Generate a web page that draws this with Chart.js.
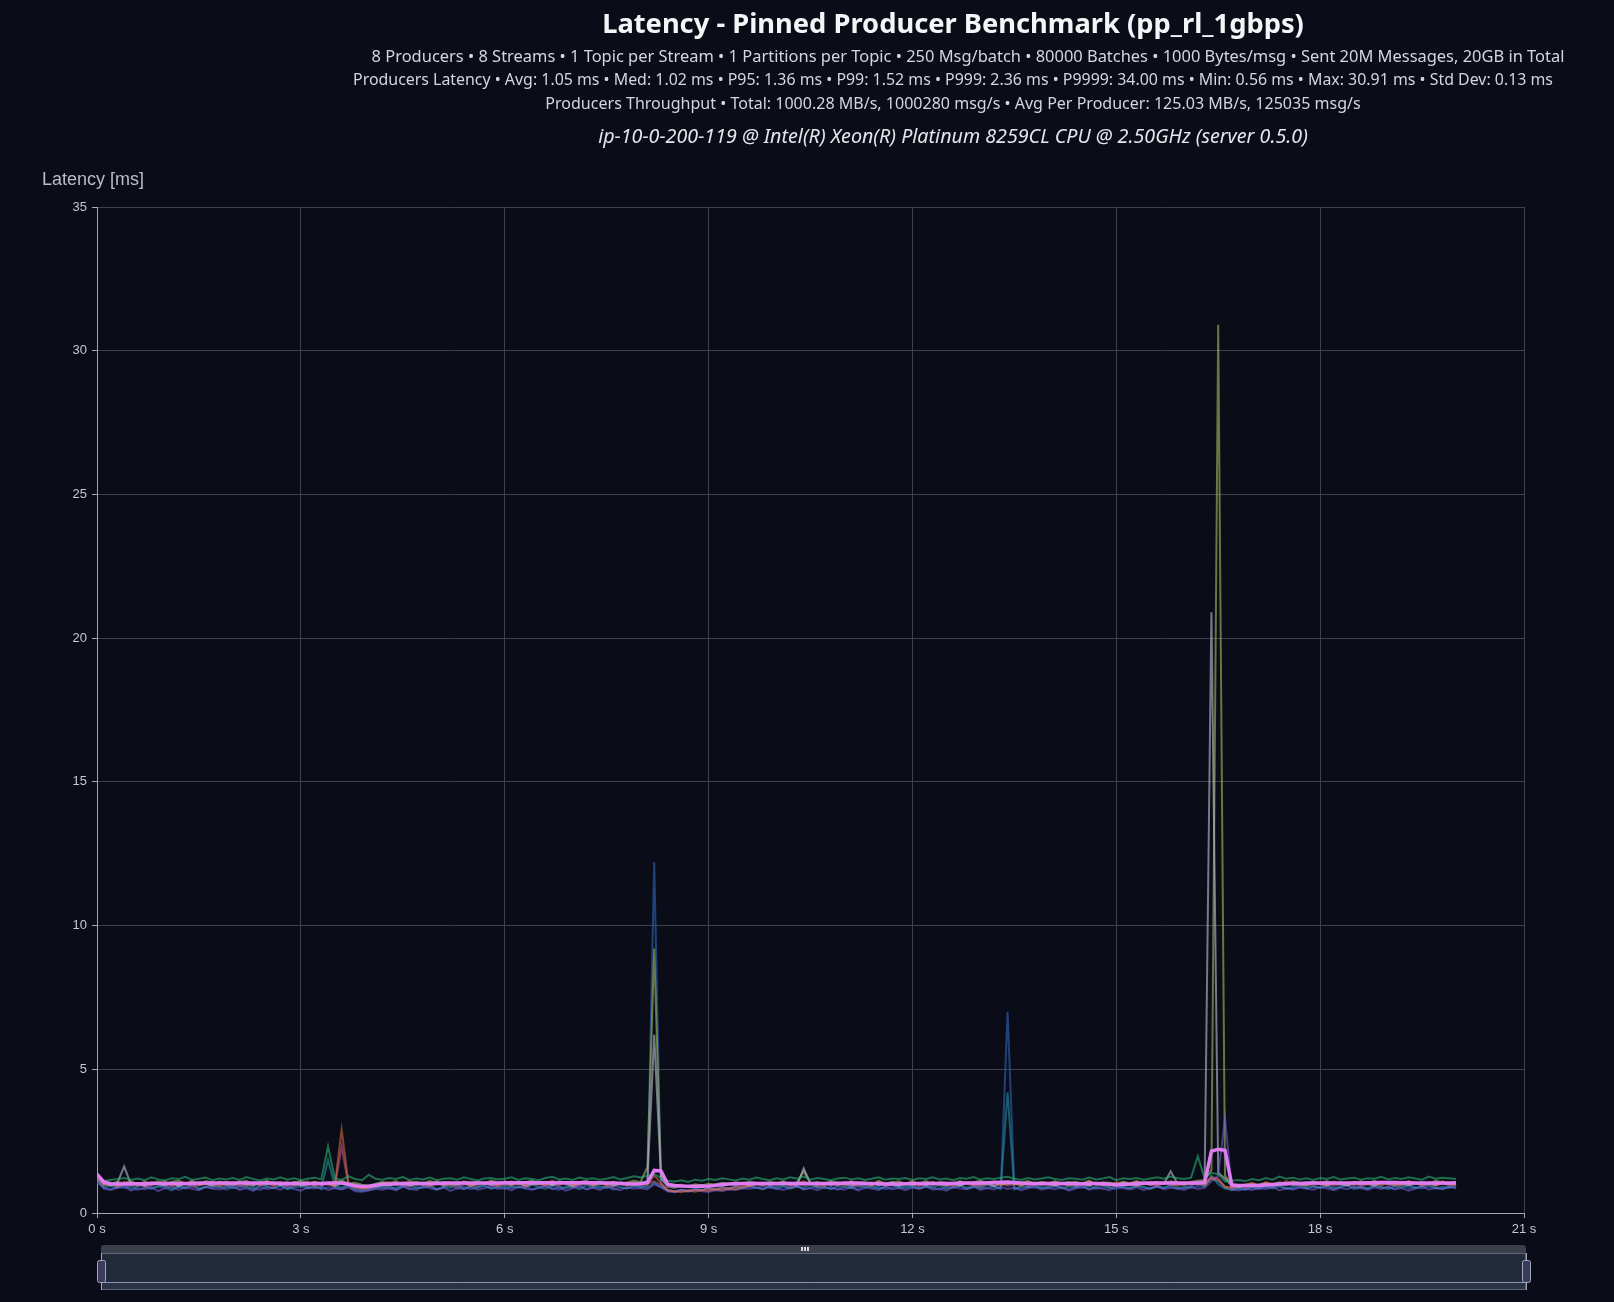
<!DOCTYPE html>
<html>
<head>
<meta charset="utf-8">
<title>Latency - Pinned Producer Benchmark (pp_rl_1gbps)</title>
<script src="https://cdn.jsdelivr.net/npm/chart.js@4.4.1/dist/chart.umd.min.js"></script>
<style>
  html, body { margin: 0; padding: 0; background: #0a0d17; overflow: hidden; }
  canvas { display: block; }
</style>
</head>
<body>
<canvas id="myChart" width="1614" height="1302"></canvas>
<script>
// setup
const titleText = 'Latency - Pinned Producer Benchmark (pp_rl_1gbps)';
const subtitleLines = [
  '8 Producers \u2022 8 Streams \u2022 1 Topic per Stream \u2022 1 Partitions per Topic \u2022 250 Msg/batch \u2022 80000 Batches \u2022 1000 Bytes/msg \u2022 Sent 20M Messages, 20GB in Total',
  'Producers Latency \u2022 Avg: 1.05 ms \u2022 Med: 1.02 ms \u2022 P95: 1.36 ms \u2022 P99: 1.52 ms \u2022 P999: 2.36 ms \u2022 P9999: 34.00 ms \u2022 Min: 0.56 ms \u2022 Max: 30.91 ms \u2022 Std Dev: 0.13 ms',
  'Producers Throughput \u2022 Total: 1000.28 MB/s, 1000280 msg/s \u2022 Avg Per Producer: 125.03 MB/s, 125035 msg/s'
];
const hostText = 'ip-10-0-200-119 @ Intel(R) Xeon(R) Platinum 8259CL CPU @ 2.50GHz (server 0.5.0)';
const yAxisName = 'Latency [ms]';
const xTicks = [0, 3, 6, 9, 12, 15, 18, 21];
const yTicks = [0, 5, 10, 15, 20, 25, 30, 35];

// time in seconds
const times = [
  0,0.1,0.2,0.3,0.4,0.5,0.6,0.7,0.8,0.9,1,1.1,1.2,1.3,1.4,1.5,1.6,1.7,1.8,1.9,
  2,2.1,2.2,2.3,2.4,2.5,2.6,2.7,2.8,2.9,3,3.1,3.2,3.3,3.4,3.5,3.6,3.7,3.8,3.9,
  4,4.1,4.2,4.3,4.4,4.5,4.6,4.7,4.8,4.9,5,5.1,5.2,5.3,5.4,5.5,5.6,5.7,5.8,5.9,
  6,6.1,6.2,6.3,6.4,6.5,6.6,6.7,6.8,6.9,7,7.1,7.2,7.3,7.4,7.5,7.6,7.7,7.8,7.9,
  8,8.1,8.2,8.3,8.4,8.5,8.6,8.7,8.8,8.9,9,9.1,9.2,9.3,9.4,9.5,9.6,9.7,9.8,9.9,
  10,10.1,10.2,10.3,10.4,10.5,10.6,10.7,10.8,10.9,11,11.1,11.2,11.3,11.4,11.5,11.6,11.7,11.8,11.9,
  12,12.1,12.2,12.3,12.4,12.5,12.6,12.7,12.8,12.9,13,13.1,13.2,13.3,13.4,13.5,13.6,13.7,13.8,13.9,
  14,14.1,14.2,14.3,14.4,14.5,14.6,14.7,14.8,14.9,15,15.1,15.2,15.3,15.4,15.5,15.6,15.7,15.8,15.9,
  16,16.1,16.2,16.3,16.4,16.5,16.6,16.7,16.8,16.9,17,17.1,17.2,17.3,17.4,17.5,17.6,17.7,17.8,17.9,
  18,18.1,18.2,18.3,18.4,18.5,18.6,18.7,18.8,18.9,19,19.1,19.2,19.3,19.4,19.5,19.6,19.7,19.8,19.9,
  20
];

const producer1 = [
  1.28,1.12,1.15,1.18,1.22,1.16,1.20,1.14,1.24,1.17,1.13,1.21,1.18,1.26,1.15,1.19,1.23,1.14,1.20,1.17,
  1.22,1.15,1.25,1.18,1.13,1.20,1.17,1.24,1.16,1.21,1.14,1.19,1.23,1.17,2.32,1.20,1.15,1.28,1.18,1.14,
  1.33,1.19,1.16,1.22,1.18,1.25,1.15,1.20,1.17,1.23,1.14,1.19,1.21,1.16,1.24,1.18,1.13,1.20,1.22,1.17,
  1.19,1.24,1.15,1.21,1.18,1.14,1.22,1.26,1.17,1.20,1.15,1.23,1.18,1.21,1.16,1.19,1.25,1.17,1.22,1.28,
  1.24,1.30,1.35,1.22,1.12,1.10,1.14,1.08,1.16,1.12,1.18,1.15,1.21,1.17,1.13,1.20,1.16,1.23,1.18,1.14,
  1.21,1.17,1.24,1.19,1.27,1.16,1.22,1.18,1.14,1.20,1.23,1.17,1.21,1.15,1.19,1.24,1.16,1.20,1.18,1.22,
  1.15,1.21,1.18,1.24,1.17,1.20,1.14,1.22,1.19,1.25,1.16,1.21,1.18,1.23,1.26,1.19,1.15,1.22,1.17,1.20,
  1.24,1.18,1.15,1.21,1.19,1.16,1.23,1.17,1.20,1.25,1.14,1.21,1.18,1.22,1.16,1.20,1.24,1.19,1.27,1.21,
  1.18,1.23,1.98,1.20,1.40,1.35,1.10,1.12,1.15,1.11,1.18,1.14,1.22,1.16,1.27,1.19,1.23,1.17,1.21,1.15,
  1.22,1.18,1.25,1.17,1.20,1.23,1.16,1.21,1.19,1.26,1.17,1.22,1.18,1.24,1.20,1.16,1.27,1.19,1.23,1.21,
  1.18
];
const producer2 = [
  1.30,0.98,1.04,0.92,1.08,1.01,0.95,1.10,0.97,1.03,1.12,0.94,1.06,0.99,1.14,0.96,1.02,1.09,0.93,1.05,
  1.00,1.11,0.95,1.07,0.98,1.13,0.94,1.04,1.08,0.97,1.02,1.10,0.93,1.06,1.01,0.96,2.90,1.05,0.90,0.86,
  0.88,0.95,1.02,1.08,0.97,1.04,1.12,0.98,1.06,0.95,1.10,1.01,0.96,1.07,1.03,0.94,1.09,1.00,1.05,0.97,
  1.11,0.99,1.04,0.95,1.08,1.02,0.96,1.13,1.00,1.06,0.97,1.03,1.10,0.98,1.05,0.94,1.08,1.01,0.96,1.04,
  1.02,0.98,1.30,1.05,0.80,0.76,0.72,0.78,0.74,0.80,0.77,0.83,0.79,0.86,0.82,0.90,0.95,1.02,0.97,1.05,
  1.00,1.08,0.96,1.03,1.10,0.98,1.05,0.94,1.07,1.01,0.97,1.12,0.99,1.04,0.95,1.09,1.02,0.97,1.06,1.00,
  1.13,0.96,1.04,1.08,0.98,1.03,0.95,1.10,1.01,0.97,1.06,0.99,1.11,0.96,1.05,1.02,0.94,1.08,1.00,1.04,
  0.97,1.09,1.02,0.95,1.06,1.00,1.12,0.98,1.03,0.94,1.07,1.01,0.96,1.10,0.99,1.05,0.97,1.08,1.02,0.96,
  1.06,1.00,1.03,0.97,1.20,1.15,0.92,0.88,0.94,0.99,1.05,0.95,1.08,1.01,0.97,1.11,0.99,1.04,0.96,1.07,
  1.02,0.95,1.09,1.00,1.04,0.97,1.12,0.99,1.05,0.94,1.08,1.01,0.96,1.10,1.03,0.98,1.06,0.95,1.11,1.00,
  0.97
];
const producer3 = [
  1.25,0.85,0.80,0.88,0.92,0.78,0.86,0.83,0.90,0.76,0.87,0.93,0.81,0.89,0.84,0.79,0.91,0.85,0.82,0.88,
  0.94,0.80,0.86,0.77,0.90,0.84,0.88,0.81,0.95,0.83,0.78,0.89,0.85,0.92,0.80,0.87,0.82,0.90,0.76,0.74,
  0.78,0.84,0.81,0.88,0.79,0.91,0.85,0.80,0.93,0.86,0.82,0.89,0.77,0.87,0.83,0.90,0.81,0.86,0.94,0.84,
  0.88,0.79,0.92,0.85,0.81,0.87,0.95,0.83,0.89,0.78,0.86,0.91,0.82,0.88,0.80,0.93,0.85,0.79,0.90,0.84,
  0.87,0.82,1.00,0.90,0.75,0.72,0.78,0.74,0.80,0.76,0.73,0.79,0.77,0.82,0.80,0.86,0.84,0.89,0.83,0.91,
  0.85,0.80,0.88,0.93,0.82,0.87,0.79,0.90,0.84,0.86,0.81,0.92,0.78,0.88,0.85,0.80,0.91,0.83,0.87,0.79,
  0.89,0.84,0.92,0.81,0.86,0.78,0.90,0.85,0.83,0.94,0.80,0.87,0.82,0.91,0.84,0.88,0.79,0.86,0.93,0.81,
  0.87,0.83,0.90,0.78,0.85,0.92,0.81,0.88,0.84,0.79,0.91,0.86,0.82,0.89,0.80,0.87,0.93,0.83,0.88,0.85,
  0.80,0.90,0.84,0.88,1.10,1.30,3.30,0.82,0.78,0.85,0.80,0.88,0.83,0.91,0.79,0.86,0.82,0.89,0.84,0.81,
  0.90,0.85,0.79,0.88,0.83,0.92,0.86,0.80,0.89,0.84,0.91,0.82,0.87,0.78,0.85,0.93,0.81,0.88,0.84,0.90,
  0.86
];
const producer4 = [
  1.32,1.02,0.96,1.05,1.62,0.99,1.04,0.94,1.07,1.01,0.97,1.06,0.93,1.03,1.08,0.98,1.02,0.95,1.09,1.00,
  0.96,1.04,1.01,0.94,1.07,0.99,1.05,0.97,1.02,1.08,0.95,1.00,1.06,0.98,1.03,0.93,1.04,1.01,0.97,0.91,
  0.93,0.99,1.05,0.97,1.02,1.07,0.95,1.01,0.98,1.04,1.09,0.96,1.03,0.99,1.06,0.94,1.02,1.05,0.97,1.01,
  1.04,0.98,1.07,0.95,1.02,0.99,1.05,0.96,1.08,1.00,0.94,1.03,1.06,0.97,1.01,1.04,0.95,1.07,0.99,1.02,
  1.05,1.10,6.20,1.20,0.92,0.88,0.95,0.90,0.93,0.97,0.91,0.99,0.95,1.02,0.98,1.04,0.96,1.01,1.05,0.97,
  1.03,0.99,1.06,0.95,1.55,1.02,0.98,1.04,0.96,1.07,1.00,0.94,1.03,0.99,1.05,0.97,1.02,1.08,0.95,1.01,
  0.98,1.04,0.96,1.07,1.01,0.97,1.03,0.95,1.06,1.00,0.98,1.04,0.94,1.02,1.00,1.06,0.97,1.03,0.99,1.05,
  1.01,0.96,1.04,1.08,0.98,1.02,0.95,1.05,0.99,1.03,0.97,1.06,1.00,0.96,1.04,0.98,1.07,1.01,1.45,1.03,
  0.99,1.05,1.02,1.10,20.90,1.40,1.20,0.94,0.90,0.96,0.93,0.99,1.03,0.96,1.01,1.05,0.98,1.02,0.95,1.06,
  1.00,0.97,1.04,1.01,0.96,1.06,0.99,1.03,0.95,1.07,1.01,0.98,1.04,0.97,1.02,0.99,1.05,0.96,1.03,1.00,
  1.02
];
const producer5 = [
  1.20,1.06,1.01,1.09,1.03,1.12,0.98,1.07,1.04,1.10,1.00,1.08,1.13,1.02,1.06,0.99,1.11,1.05,1.03,1.09,
  1.01,1.07,1.12,0.99,1.05,1.10,1.03,1.08,0.98,1.06,1.11,1.02,1.09,1.04,1.00,1.07,1.13,1.03,1.05,0.98,
  0.96,1.02,1.08,1.04,1.11,1.00,1.06,1.09,1.03,1.12,1.01,1.07,1.05,0.99,1.10,1.04,1.08,1.02,1.13,1.06,
  1.03,1.09,1.00,1.07,1.12,1.04,1.06,0.99,1.10,1.05,1.02,1.08,1.11,1.03,1.07,1.00,1.09,1.04,1.06,1.12,
  1.08,1.60,9.20,1.25,1.00,0.94,0.98,0.92,1.00,0.96,1.02,0.99,1.05,1.01,1.07,1.03,1.09,1.05,1.02,1.08,
  1.04,1.10,1.01,1.06,1.45,1.03,1.08,1.00,1.11,1.05,1.02,1.09,1.04,1.07,0.99,1.12,1.03,1.06,1.10,1.01,
  1.07,1.03,1.11,1.00,1.08,1.05,1.02,1.10,1.04,1.06,1.13,1.01,1.07,1.03,1.09,1.00,1.05,1.11,1.02,1.08,
  1.04,1.10,1.01,1.06,1.09,1.03,1.12,1.00,1.07,1.05,1.02,1.09,1.04,1.11,1.01,1.06,1.08,1.03,1.10,1.05,
  1.02,1.08,1.12,1.15,1.50,30.90,1.30,1.00,0.95,0.98,1.02,0.97,1.04,1.00,1.07,1.03,1.10,1.05,1.01,1.08,
  1.04,1.11,1.02,1.07,1.00,1.09,1.05,1.03,1.12,1.01,1.06,1.08,1.02,1.10,1.04,1.07,1.00,1.13,1.05,1.03,
  1.06
];
const producer6 = [
  1.15,0.97,1.02,0.93,1.00,0.95,1.04,0.90,0.99,1.06,0.94,1.01,0.96,1.03,0.91,0.98,1.05,0.93,1.00,0.97,
  1.03,0.92,0.99,1.06,0.95,1.01,0.97,1.04,0.91,0.98,1.02,0.94,1.07,0.96,1.00,0.93,2.30,0.98,0.88,0.84,
  0.86,0.93,0.99,0.95,1.03,0.97,0.92,1.05,0.98,0.94,1.01,0.96,1.04,0.91,0.99,1.02,0.95,1.06,0.97,0.93,
  1.00,0.96,1.04,0.92,0.99,1.03,0.95,1.01,0.97,1.06,0.93,0.98,1.02,0.95,1.05,0.99,0.91,1.03,0.97,1.00,
  0.96,1.02,1.10,0.98,0.78,0.74,0.80,0.76,0.82,0.79,0.85,0.81,0.88,0.84,0.91,0.95,0.93,0.99,0.96,1.02,
  0.97,1.03,0.94,1.00,0.96,1.05,0.92,0.99,1.02,0.95,1.04,0.98,0.93,1.01,0.97,1.06,0.94,1.00,0.96,1.03,
  0.99,0.94,1.02,0.97,1.05,0.93,1.00,0.96,1.04,0.98,0.92,1.01,0.97,1.03,0.95,0.99,1.06,0.94,1.00,0.97,
  1.02,0.95,0.99,1.04,0.93,1.01,0.97,1.05,0.96,1.00,0.94,1.03,0.98,0.95,1.02,0.99,0.93,1.04,0.97,1.01,
  0.96,1.03,0.99,1.05,1.25,1.20,0.90,0.86,0.92,0.88,0.95,0.91,0.98,0.94,1.01,0.97,1.04,0.95,1.00,0.96,
  1.03,0.98,0.94,1.01,0.97,1.05,0.93,1.00,0.96,1.04,0.99,0.95,1.02,0.97,1.06,0.94,1.00,0.98,1.03,0.96,
  0.99
];
const producer7 = [
  1.10,0.90,0.95,0.87,0.98,0.84,0.93,0.99,0.86,0.92,0.96,0.83,0.94,0.89,1.00,0.85,0.91,0.97,0.88,0.94,
  0.86,0.95,0.90,0.82,0.98,0.92,0.87,0.96,0.84,0.93,0.99,0.88,0.91,0.85,1.85,0.94,0.89,0.97,0.83,0.80,
  0.84,0.91,0.87,0.95,0.82,0.93,0.98,0.86,0.90,0.96,0.83,0.92,0.88,1.00,0.85,0.94,0.89,0.97,0.84,0.91,
  0.95,0.88,0.93,0.86,0.99,0.90,0.84,0.96,0.91,0.87,0.94,0.82,0.97,0.89,0.93,0.86,0.98,0.90,0.85,0.95,
  0.92,0.88,1.05,0.90,0.80,0.76,0.82,0.78,0.85,0.81,0.87,0.83,0.90,0.86,0.92,0.88,0.95,0.89,0.84,0.93,
  0.90,0.96,0.85,0.92,0.88,0.99,0.87,0.93,0.83,0.95,0.90,0.86,0.97,0.89,0.94,0.84,0.92,0.98,0.87,0.91,
  0.95,0.86,0.93,0.89,0.97,0.84,0.91,0.96,0.88,0.92,0.85,0.99,0.90,0.87,4.20,0.82,0.93,0.89,0.96,0.86,
  0.91,0.97,0.85,0.93,0.89,0.95,0.83,0.92,0.98,0.87,0.94,0.90,0.86,0.96,0.91,0.84,0.93,0.88,0.97,0.90,
  0.87,0.94,1.10,0.92,1.30,1.00,0.85,0.80,0.86,0.83,0.90,0.85,0.93,0.88,0.95,0.84,0.91,0.97,0.86,0.92,
  0.89,0.95,0.84,0.93,0.98,0.87,0.91,0.85,0.96,0.90,0.83,0.94,0.88,0.97,0.86,0.92,0.99,0.85,0.91,0.88,
  0.94
];
const producer8 = [
  1.05,0.88,0.83,0.92,0.86,0.95,0.80,0.89,0.84,0.93,0.87,0.79,0.91,0.85,0.96,0.82,0.90,0.86,0.94,0.81,
  0.89,0.84,0.93,0.87,0.80,0.91,0.86,0.95,0.83,0.88,0.92,0.85,0.97,0.82,0.90,0.87,0.84,0.93,0.79,0.77,
  0.80,0.86,0.92,0.84,0.89,0.95,0.82,0.90,0.87,0.93,0.81,0.88,0.96,0.85,0.91,0.83,0.89,0.94,0.86,0.90,
  0.84,0.92,0.87,0.95,0.82,0.89,0.93,0.86,0.80,0.91,0.88,0.96,0.84,0.90,0.87,0.93,0.81,0.89,0.85,0.92,
  0.88,0.95,12.20,1.00,0.78,0.74,0.80,0.76,0.82,0.78,0.84,0.80,0.86,0.83,0.89,0.85,0.91,0.87,0.93,0.88,
  0.84,0.91,0.87,0.95,0.82,0.89,0.93,0.85,0.90,0.80,0.92,0.87,0.84,0.96,0.88,0.91,0.83,0.89,0.94,0.86,
  0.90,0.85,0.93,0.88,0.81,0.92,0.87,0.95,0.84,0.89,0.91,0.86,0.94,0.83,7.00,0.88,0.85,0.92,0.87,0.90,
  0.86,0.93,0.89,0.82,0.91,0.87,0.95,0.84,0.90,0.88,0.83,0.92,0.86,0.94,0.89,0.85,0.91,0.87,0.93,0.84,
  0.90,0.88,0.93,0.96,1.20,1.10,0.88,0.82,0.86,0.80,0.87,0.83,0.90,0.85,0.92,0.88,0.84,0.91,0.86,0.93,
  0.87,0.92,0.85,0.90,0.95,0.83,0.89,0.86,0.93,0.88,0.91,0.84,0.96,0.87,0.90,0.85,0.92,0.88,0.83,0.91,
  0.89
];
// rolling average of all producers
const rollingAvg = [
  1.35,1.08,1.02,1.01,1.01,1.02,1.02,1.02,1.03,1.03,1.03,1.03,1.03,1.03,1.03,1.04,1.04,1.04,1.04,1.04,
  1.04,1.04,1.04,1.04,1.04,1.04,1.04,1.03,1.03,1.03,1.03,1.03,1.03,1.03,1.04,1.04,1.04,1.00,0.95,0.92,
  0.93,0.96,0.99,1.01,1.02,1.02,1.03,1.03,1.03,1.03,1.03,1.04,1.04,1.04,1.04,1.04,1.04,1.04,1.04,1.04,
  1.05,1.05,1.05,1.05,1.05,1.05,1.05,1.05,1.05,1.05,1.05,1.05,1.05,1.05,1.05,1.04,1.04,1.03,1.02,1.01,
  1.02,1.06,1.48,1.46,1.00,0.96,0.94,0.93,0.93,0.93,0.94,0.96,0.99,1.01,1.02,1.03,1.03,1.03,1.03,1.03,
  1.03,1.03,1.03,1.03,1.03,1.03,1.03,1.03,1.03,1.03,1.04,1.04,1.04,1.03,1.03,1.02,1.01,1.01,1.01,1.02,
  1.03,1.03,1.03,1.03,1.03,1.03,1.03,1.04,1.04,1.04,1.04,1.05,1.06,1.07,1.08,1.06,1.04,1.03,1.03,1.03,
  1.03,1.03,1.03,1.02,1.02,1.02,1.03,1.03,1.02,1.00,0.98,0.99,1.01,1.03,1.04,1.04,1.04,1.04,1.04,1.04,
  1.04,1.04,1.04,1.06,2.15,2.22,2.18,0.97,0.96,0.96,0.96,0.96,0.97,0.99,1.01,1.02,1.03,1.03,1.04,1.04,
  1.04,1.04,1.04,1.04,1.04,1.04,1.04,1.05,1.05,1.06,1.06,1.06,1.05,1.05,1.04,1.04,1.04,1.04,1.04,1.04,
  1.05
];

const producerSeries = [producer1, producer2, producer3, producer4, producer5, producer6, producer7, producer8];
const producerColors = [
  'rgba(40, 175, 115, 0.6)',
  'rgba(230, 115, 65, 0.55)',
  'rgba(125, 95, 225, 0.55)',
  'rgba(180, 178, 200, 0.65)',
  'rgba(165, 190, 95, 0.6)',
  'rgba(215, 90, 150, 0.55)',
  'rgba(35, 150, 160, 0.6)',
  'rgba(45, 95, 175, 0.65)'
];

const toPoints = (vals) => times.map((t, i) => ({ x: t, y: vals[i] }));

const datasets = producerSeries.map((vals, i) => ({
  label: 'Producer ' + (i + 1),
  data: toPoints(vals),
  borderColor: producerColors[i],
  backgroundColor: producerColors[i],
  borderWidth: 2,
  pointRadius: 0,
  tension: 0,
  order: 1
}));
datasets.push({
  label: 'Rolling average',
  data: toPoints(rollingAvg),
  borderColor: '#e07cf2',
  backgroundColor: '#e07cf2',
  borderWidth: 3.5,
  pointRadius: 0,
  tension: 0,
  order: 0
});

const data = { datasets };

// draws the background, the header text block and the y axis name
const headerPlugin = {
  id: 'header',
  beforeDraw(chart) {
    const ctx = chart.ctx;
    ctx.save();
    ctx.fillStyle = '#0a0d17';
    ctx.fillRect(0, 0, chart.width, chart.height);
    ctx.restore();
  },
  afterDraw(chart) {
    const ctx = chart.ctx;
    ctx.save();
    ctx.textBaseline = 'middle';
    ctx.textAlign = 'center';

    // fit a line of text to the width it takes in the original
    const fitLine = (text, x, y, style, size, family, width, color) => {
      ctx.font = style + ' ' + size + 'px ' + family;
      const w = ctx.measureText(text).width;
      const s = size * width / w;
      ctx.font = style + ' ' + s.toFixed(2) + 'px ' + family;
      ctx.fillStyle = color;
      ctx.fillText(text, x, y);
    };

    fitLine(titleText, 953, 25.5, 'bold', 26, '"Noto Sans", sans-serif', 702, '#f4f5f7');
    fitLine(subtitleLines[0], 968, 57, 'normal', 15, '"Noto Sans", sans-serif', 1193, '#d3d6dd');
    fitLine(subtitleLines[1], 953, 80.5, 'normal', 15, '"Noto Sans", sans-serif', 1201, '#d3d6dd');
    fitLine(subtitleLines[2], 953, 104, 'normal', 15, '"Noto Sans", sans-serif', 816, '#d3d6dd');
    fitLine(hostText, 953, 137, 'italic', 17, '"Noto Sans", sans-serif', 710, '#e4e6ea');

    ctx.textAlign = 'left';
    ctx.font = '18px "Liberation Sans", Arial, sans-serif';
    ctx.fillStyle = '#b9bdc8';
    ctx.fillText(yAxisName, 42, 180);
    ctx.restore();
  }
};

// the zoom slider under the x axis
const sliderPlugin = {
  id: 'slider',
  afterDraw(chart) {
    const ctx = chart.ctx;
    const x0 = 101, x1 = 1526;
    ctx.save();
    // top bar
    ctx.fillStyle = '#3b3f4b';
    ctx.beginPath();
    ctx.roundRect(x0, 1245, x1 - x0, 9, [3, 3, 0, 0]);
    ctx.fill();
    // body
    ctx.fillStyle = '#232a3a';
    ctx.fillRect(x0, 1254, x1 - x0, 28);
    ctx.fillStyle = '#2b3346';
    ctx.fillRect(x0, 1282, x1 - x0, 8);
    ctx.strokeStyle = '#8594b4';
    ctx.lineWidth = 1;
    ctx.beginPath();
    ctx.moveTo(x0, 1282.5);
    ctx.lineTo(x1, 1282.5);
    ctx.stroke();
    ctx.strokeStyle = '#5f6578';
    ctx.strokeRect(x0 + 0.5, 1253.5, x1 - x0 - 1, 36);
    // move handle
    ctx.fillStyle = '#d6d8e0';
    [801, 804, 807].forEach(x => ctx.fillRect(x, 1247, 2, 4));
    // side handles
    [x0, x1].forEach(x => {
      ctx.strokeStyle = '#a3a7bb';
      ctx.beginPath();
      ctx.moveTo(x + 0.5, 1253);
      ctx.lineTo(x + 0.5, 1290);
      ctx.stroke();
      ctx.fillStyle = '#3c3b5e';
      ctx.beginPath();
      ctx.roundRect(x - 3.5, 1260.5, 8, 22, 2);
      ctx.fill();
      ctx.stroke();
    });
    ctx.restore();
  }
};

// config
const config = {
  type: 'line',
  data,
  options: {
    responsive: false,
    animation: false,
    events: [],
    layout: {
      padding: { top: 207, right: 90, bottom: 0, left: 0 }
    },
    scales: {
      x: {
        type: 'linear',
        min: 0,
        max: 21,
        afterFit: (scale) => { scale.height = 89; },
        afterBuildTicks: (scale) => { scale.ticks = xTicks.map(v => ({ value: v })); },
        grid: { color: '#3d414c', tickColor: '#a4a8b2', tickLength: 5 },
        border: { color: '#a4a8b2' },
        ticks: {
          color: '#c5c8d0',
          font: { family: '"Liberation Sans", Arial, sans-serif', size: 13 },
          padding: 4,
          maxRotation: 0,
          callback: (v) => v + ' s'
        }
      },
      y: {
        min: 0,
        max: 35,
        afterFit: (scale) => { scale.width = 97; },
        afterBuildTicks: (scale) => { scale.ticks = yTicks.map(v => ({ value: v })); },
        grid: { color: '#3d414c', tickColor: '#a4a8b2', tickLength: 5 },
        border: { color: '#a4a8b2' },
        ticks: {
          color: '#c5c8d0',
          font: { family: '"Liberation Sans", Arial, sans-serif', size: 13 },
          padding: 5
        }
      }
    },
    plugins: {
      legend: { display: false },
      tooltip: { enabled: false }
    }
  },
  plugins: [headerPlugin, sliderPlugin]
};

// render init block
const myChart = new Chart(
  document.getElementById('myChart'),
  config
);
</script>
</body>
</html>
